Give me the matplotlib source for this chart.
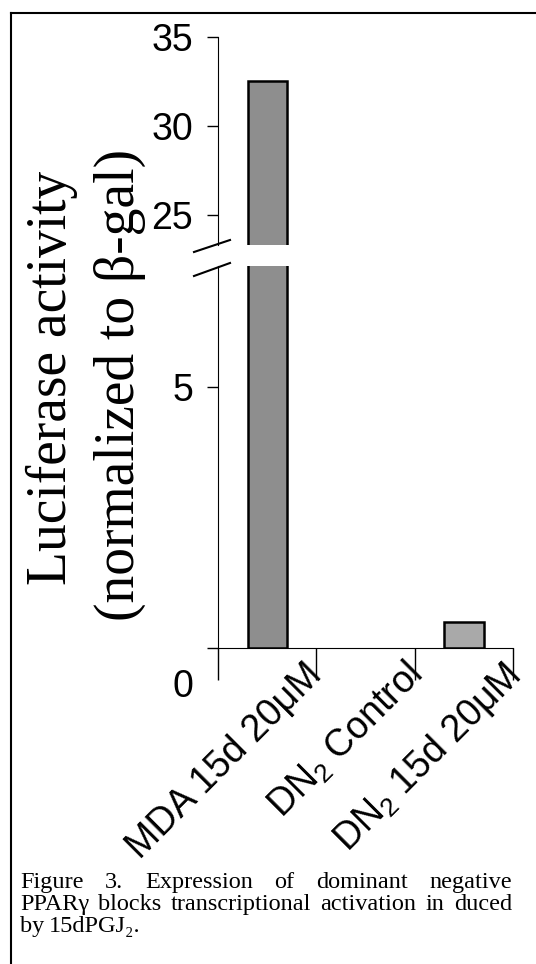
import matplotlib
matplotlib.use('Agg')
import matplotlib.pyplot as plt
from matplotlib.lines import Line2D
from matplotlib.transforms import ScaledTranslation
import numpy as np

# data
categories = ['MDA 15d 20μM', 'DN$_2$ Control', 'DN$_2$ 15d 20μM']
values = [32.5, 0.0, 0.5]
bar_colors = ['#8e8e8e', '#a9a9a9', '#a9a9a9']
lower_ticks = [0, 5]
upper_ticks = [25, 30, 35]
caption_lines = ['Figure 3. Expression of dominant negative',
                 'PPARγ blocks transcriptional activation in duced',
                 'by 15dPGJ₂.']

plt.rcParams['font.family'] = 'Liberation Sans'
plt.rcParams['mathtext.fontset'] = 'custom'
plt.rcParams['mathtext.rm'] = 'Liberation Sans'
plt.rcParams['mathtext.it'] = 'Liberation Sans:italic'

W, H = 536, 964
def fx(px):
    return px / W
def fy(py):
    return 1 - py / H

fig = plt.figure(figsize=(W / 100, H / 100), dpi=100)
ax_lo = fig.add_axes([fx(218), fy(648), 295 / W, (648 - 266) / H])
ax_hi = fig.add_axes([fx(218), fy(245), 295 / W, (245 - 37) / H])

x = np.arange(len(categories))
edges = ['black' if v > 0 else 'none' for v in values]
for ax in (ax_lo, ax_hi):
    ax.bar(x, values, width=0.4, color=bar_colors, edgecolor=edges, linewidth=1.8)
    ax.set_xlim(-0.5, 2.5)
    ax.spines['top'].set_visible(False)
    ax.spines['right'].set_visible(False)
    ax.tick_params(axis='y', length=8, width=1, labelsize=27, pad=10)

ax_lo.set_ylim(0, 7.32)
ax_lo.set_yticks(lower_ticks)
ax_hi.set_ylim(23.3, 35)
ax_hi.set_yticks(upper_ticks)
ax_hi.spines['bottom'].set_visible(False)
ax_hi.set_xticks([])

ax_lo.set_xticks(x)
ax_lo.set_xticklabels(categories, rotation=45, ha='right', va='top',
                      rotation_mode='anchor', fontsize=27)
ax_lo.set_xticks([-0.5, 0.5, 1.5, 2.5], minor=True)
ax_lo.tick_params(axis='x', which='major', length=0, pad=6)
ax_lo.tick_params(axis='x', which='minor', length=23, width=1)
for lab in ax_lo.get_xticklabels():
    lab.set_transform(lab.get_transform() + ScaledTranslation(0.37, 0, fig.dpi_scale_trans))
zero_lab = ax_lo.yaxis.get_major_ticks()[0].label1
zero_lab.set_transform(zero_lab.get_transform() + ScaledTranslation(0, -0.35, fig.dpi_scale_trans))

# axis break marks
for (x0, y0, x1, y1) in [(194, 252, 230, 240), (194, 276, 230, 263)]:
    fig.add_artist(Line2D([fx(x0), fx(x1)], [fy(y0), fy(y1)], color='black', lw=1.5))

# frame from the page
fig.add_artist(Line2D([fx(11), fx(11)], [fy(13), 0], color='black', lw=1.5))
fig.add_artist(Line2D([fx(11), 1], [fy(13), fy(13)], color='black', lw=1.5))

# y label
fig.text(fx(52), fy(378), 'Luciferase activity', rotation=90, family='Liberation Serif',
         size=40, ha='center', va='center')
fig.text(fx(120), fy(385), '(normalized to β-gal)', rotation=90, family='Liberation Serif',
         size=40, ha='center', va='center')

# caption, first two lines justified
fig.canvas.draw()
r = fig.canvas.get_renderer()
baselines = [888, 910, 932]
left, right = 20, 512
for i, line in enumerate(caption_lines):
    words = line.split()
    texts = [fig.text(fx(left), fy(baselines[i]), w, family=['Liberation Serif', 'DejaVu Serif'],
                      size=17.5, va='baseline', ha='left') for w in words]
    widths = [t.get_window_extent(renderer=r).width for t in texts]
    if i < 2:
        gap = (right - left - sum(widths)) / (len(words) - 1)
    else:
        gap = 5
    pos = left
    for t, w in zip(texts, widths):
        t.set_x(fx(pos))
        pos += w + gap

fig.savefig('out.png', dpi=100)
